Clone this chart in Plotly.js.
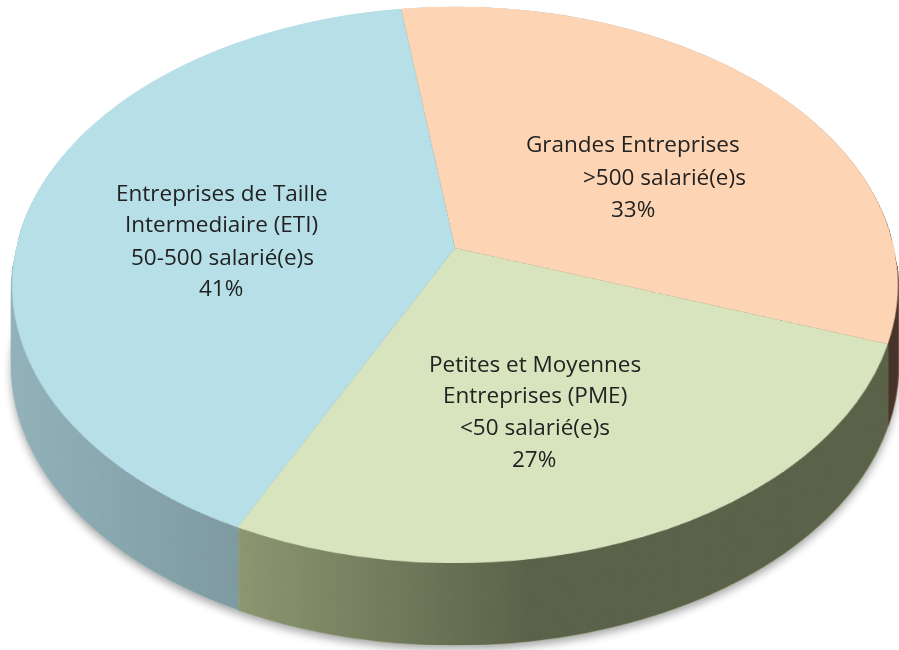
<!DOCTYPE html>
<html><head><meta charset="utf-8">
<script src="https://cdn.plot.ly/plotly-3.0.1.min.js"></script>
<style>
html,body{margin:0;padding:0;background:#fff;}
#stage{position:relative;width:899px;height:650px;overflow:hidden;background:#fff;}
.layer{position:absolute;}
.full{position:absolute;left:0;top:0;width:899px;height:650px;}
</style></head><body>
<div id="stage"></div>
<script>
// ---- DATA ----
const categories = ['Grandes Entreprises', 'Petites et Moyennes Entreprises (PME)', 'Entreprises de Taille Intermediaire (ETI)'];
const nameLines = [['Grandes Entreprises'], ['Petites et Moyennes', 'Entreprises (PME)'], ['Entreprises de Taille', 'Intermediaire (ETI)']];
const sizeBands = ['>500 salarié(e)s', '<50 salarié(e)s', '50-500 salarié(e)s'];
const shares = [33, 27, 41];

// ---- STYLE / LAYOUT ----
const topColors = ['#fdd5b4', '#d8e4bd', '#b7dfe8'];
const sideColors = ['#6e4e3e', '#8c9771', '#93b3bb'];
const textPos = [
  [[633,143],[664,176],[633,208.5]],
  [[535,363],[534.5,394.5],[535,426.5],[533.5,458]],
  [[222,192],[221,223.5],[222,256.5],[221,287.5]]
];
const R = 439, CX = 455, CY = 248, TILT = 51.5, PERSP = 2584, DEPTH = 82, ROT = -8, NL = 42;
const baseTF = `perspective(${PERSP}px) rotateX(${TILT}deg)`;
const stage = document.getElementById('stage');

function pieTrace(colors, seam){
  return {type:'pie', values:shares, labels:categories, sort:false, direction:'clockwise',
    rotation:ROT, marker:{colors:colors, line:{width:seam ? 1.5 : 0, color:colors}},
    textinfo:'none', hoverinfo:'skip', showlegend:false};
}
function addLayer(dy, colors, seam, parent){
  const d = document.createElement('div');
  d.className = 'layer';
  d.style.left = (CX-R)+'px'; d.style.top = (CY-R)+'px';
  d.style.width = 2*R+'px'; d.style.height = 2*R+'px';
  d.style.transformOrigin = '50% 50%';
  d.style.transform = `translateY(${dy}px) ${baseTF}`;
  (parent||stage).appendChild(d);
  Plotly.newPlot(d, [pieTrace(colors, seam)], {width:2*R, height:2*R, margin:{l:0,r:0,t:0,b:0},
    paper_bgcolor:'rgba(0,0,0,0)', plot_bgcolor:'rgba(0,0,0,0)', showlegend:false},
    {staticPlot:true, displayModeBar:false});
}

// projection helper (same transform as layers)
const M = new DOMMatrix(baseTF);
function proj(u, v){ const p = M.transformPoint(new DOMPoint(u, v, 0, 1)); return [CX + p.x/p.w, CY + p.y/p.w]; }

// side: shadowed deepest layer, then intermediate layers
const shadowWrap = document.createElement('div');
shadowWrap.className = 'full';
shadowWrap.style.filter = 'drop-shadow(0px 4px 4px rgba(0,0,0,0.35))';
stage.appendChild(shadowWrap);
addLayer(DEPTH, sideColors, true, shadowWrap);
for (let i = 1; i < NL; i++) addLayer(DEPTH*(1 - i/NL), sideColors, true);

// shading overlay for the side walls
const total = shares.reduce((a,b)=>a+b,0);
const thB = (ROT + (shares[0]+shares[1])/total*360) * Math.PI/180;
const bx = proj(R*Math.sin(thB), -R*Math.cos(thB))[0];
const pts = [];
for (let k = 0; k < 720; k++){
  const t = k/720*2*Math.PI;
  const p = proj(R*Math.sin(t), -R*Math.cos(t));
  pts.push([p[0], p[1]]); pts.push([p[0], p[1]+DEPTH]);
}
function hull(P){
  P.sort((a,b)=>a[0]-b[0]||a[1]-b[1]);
  const cr=(o,a,b)=>(a[0]-o[0])*(b[1]-o[1])-(a[1]-o[1])*(b[0]-o[0]);
  const lo=[],up=[];
  for(const p of P){while(lo.length>=2&&cr(lo[lo.length-2],lo[lo.length-1],p)<=0)lo.pop();lo.push(p);}
  for(let i=P.length-1;i>=0;i--){const p=P[i];while(up.length>=2&&cr(up[up.length-2],up[up.length-1],p)<=0)up.pop();up.push(p);}
  lo.pop();up.pop();return lo.concat(up);
}
const H = hull(pts);
const shade = document.createElement('div');
shade.className = 'full';
shade.style.background = `linear-gradient(to right, #ffffff 0px, #dcdcdc ${bx.toFixed(1)}px, #ffffff ${bx.toFixed(1)}px, #a6a6a6 ${(bx+290).toFixed(1)}px, #a6a6a6 899px)`;
shade.style.mixBlendMode = 'multiply';
shade.style.clipPath = 'polygon(' + H.map(p=>p[0].toFixed(1)+'px '+p[1].toFixed(1)+'px').join(',') + ')';
stage.appendChild(shade);

// top face
addLayer(0, topColors, false);

// labels
const textDiv = document.createElement('div');
textDiv.className = 'full';
stage.appendChild(textDiv);
const annotations = [];
categories.forEach((c, i) => {
  const lines = nameLines[i].concat([sizeBands[i], shares[i] + '%']);
  lines.forEach((t, j) => {
    annotations.push({xref:'x', yref:'y', x:textPos[i][j][0], y:textPos[i][j][1], text:t, showarrow:false,
      xanchor:'center', yanchor:'middle', font:{family:'Open Sans, sans-serif', size:22.5, color:'#222222'}});
  });
});
Plotly.newPlot(textDiv, [], {width:899, height:650, margin:{l:0,r:0,t:0,b:0},
  paper_bgcolor:'rgba(0,0,0,0)', plot_bgcolor:'rgba(0,0,0,0)',
  xaxis:{visible:false, range:[0,899]}, yaxis:{visible:false, range:[650,0]},
  annotations:annotations, showlegend:false}, {staticPlot:true, displayModeBar:false});
</script>
</body></html>
